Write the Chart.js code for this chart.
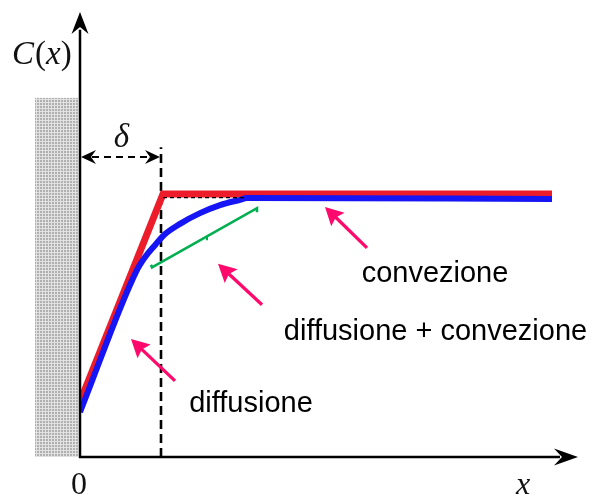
<!DOCTYPE html>
<html>
<head>
<meta charset="utf-8">
<script src="https://cdn.jsdelivr.net/npm/chart.js@4.4.1/dist/chart.umd.min.js"></script>
<style>
html,body{margin:0;padding:0;background:#fff;}
canvas{display:block;}
</style>
</head>
<body>
<canvas id="c" width="592" height="497"></canvas>
<script>
// ---- data (diagram units: x 0..100, y 0..100) ----
const redX = [0, 16.6, 94.4];
const redY = [12.4, 59.1, 59.1];

const blueX = [0, 11.2, 13, 15, 16.8, 20, 24, 28, 32, 33.4, 94.4];
const blueY = [10.1, 41.6, 44.9, 47.6, 49.9, 52.4, 54.8, 56.6, 57.8, 58.2, 58.0];

const greenX = [14.2, 14.4, 35.4, 35.4];
const greenY = [43.2, 42.6, 55.9, 55.0];
const greenTickX = [25.4, 25.4];
const greenTickY = [49.6, 48.7];

const deltaX = 16.2;            // boundary layer thickness
const plateauDashX = [16.6, 33.4];
const plateauDashY = [58.3, 58.3];

const arrowTailX = [19.0, 36.4, 57.4];
const arrowTailY = [17.1, 34.2, 47.0];
const arrowHeadX = [10.2, 27.6, 49.0];
const arrowHeadY = [26.5, 43.4, 56.2];

const labelTexts = ['convezione', 'diffusione + convezione', 'diffusione'];
const labelX = [71.0, 71.1, 34.2];
const labelY = [39.3, 26.3, 10.1];

const pts = (xs, ys) => xs.map((x, i) => ({x: x, y: ys[i]}));

function stealth(ctx, tx, ty, dx, dy, len, half, notch) {
  const px = -dy, py = dx;
  ctx.beginPath();
  ctx.moveTo(tx, ty);
  ctx.lineTo(tx - dx*len + px*half, ty - dy*len + py*half);
  ctx.lineTo(tx - dx*notch, ty - dy*notch);
  ctx.lineTo(tx - dx*len - px*half, ty - dy*len - py*half);
  ctx.closePath();
  ctx.fill();
}

const decor = {
  id: 'decor',
  beforeDatasetsDraw(chart) {
    const ctx = chart.ctx, xs = chart.scales.x, ys = chart.scales.y;
    const X = v => xs.getPixelForValue(v), Y = v => ys.getPixelForValue(v);
    ctx.save();
    // wall (hatched)
    const pc = document.createElement('canvas');
    pc.width = 3; pc.height = 3;
    const p = pc.getContext('2d');
    p.fillStyle = '#b0b0b0'; p.fillRect(0, 0, 3, 3);
    p.fillStyle = '#e2e2e2'; p.fillRect(0, 0, 3, 1); p.fillRect(0, 0, 1, 3);
    ctx.fillStyle = ctx.createPattern(pc, 'repeat');
    ctx.fillRect(X(-9), Y(80.7), X(-0.4) - X(-9), Y(0) - Y(80.7));

    // dashed vertical at delta
    ctx.strokeStyle = '#000';
    ctx.lineWidth = 2.6;
    ctx.setLineDash([9, 5]);
    ctx.beginPath();
    ctx.moveTo(X(deltaX), Y(0));
    ctx.lineTo(X(deltaX), Y(69.6));
    ctx.stroke();
    // delta dimension line
    ctx.lineWidth = 2;
    ctx.setLineDash([7, 5]);
    ctx.beginPath();
    ctx.moveTo(X(0) + 12, Y(67.4));
    ctx.lineTo(X(deltaX) - 12, Y(67.4));
    ctx.stroke();
    ctx.setLineDash([]);
    ctx.fillStyle = '#000';
    stealth(ctx, X(0) + 1, Y(67.4), -1, 0, 15, 7, 10);
    stealth(ctx, X(deltaX) - 1, Y(67.4), 1, 0, 15, 7, 10);
    ctx.restore();
  },
  afterDatasetsDraw(chart) {
    const ctx = chart.ctx, xs = chart.scales.x, ys = chart.scales.y;
    const X = v => xs.getPixelForValue(v), Y = v => ys.getPixelForValue(v);
    ctx.save();
    // axes
    ctx.strokeStyle = '#000';
    ctx.fillStyle = '#000';
    ctx.lineWidth = 2.5;
    ctx.beginPath();
    ctx.moveTo(X(0), Y(0) + 1);
    ctx.lineTo(X(0), Y(96));
    ctx.stroke();
    ctx.beginPath();
    ctx.moveTo(X(0) - 1, Y(0));
    ctx.lineTo(X(96), Y(0));
    ctx.stroke();
    stealth(ctx, X(0), Y(100), 0, -1, 22, 8.5, 15);
    stealth(ctx, X(99.6), Y(0), 1, 0, 24, 8.5, 16);

    // pink arrows
    ctx.strokeStyle = '#ff0a6c';
    ctx.fillStyle = '#ff0a6c';
    ctx.lineWidth = 3.3;
    for (let i = 0; i < arrowTailX.length; i++) {
      const tx = X(arrowTailX[i]), ty = Y(arrowTailY[i]);
      const hx = X(arrowHeadX[i]), hy = Y(arrowHeadY[i]);
      const L = Math.hypot(hx - tx, hy - ty);
      const dx = (hx - tx) / L, dy = (hy - ty) / L;
      ctx.beginPath();
      ctx.moveTo(tx, ty);
      ctx.lineTo(hx - dx*12, hy - dy*12);
      ctx.stroke();
      stealth(ctx, hx, hy, dx, dy, 18, 9.5, 15);
    }

    // labels
    ctx.fillStyle = '#000';
    ctx.font = '29px "Liberation Sans", Arial, sans-serif';
    ctx.textAlign = 'center';
    ctx.textBaseline = 'alphabetic';
    for (let i = 0; i < labelTexts.length; i++) {
      ctx.fillText(labelTexts[i], X(labelX[i]), Y(labelY[i]));
    }

    // math labels
    ctx.fillStyle = '#111';
    ctx.textAlign = 'left';
    let cx = 12;
    const base = 64;
    const parts = [['C', true], ['(', false], ['x', true], [')', false]];
    for (const [t, it] of parts) {
      ctx.font = (it ? 'italic ' : '') + '33px "Liberation Serif", "Times New Roman", serif';
      ctx.fillText(t, cx, base);
      cx += ctx.measureText(t).width + (t === 'C' ? 1 : 0);
    }
    ctx.textAlign = 'center';
    ctx.font = 'italic 33px "Liberation Serif", serif';
    ctx.fillText('δ', X(deltaX / 2) + 1, 147);
    ctx.font = '32px "Liberation Serif", serif';
    ctx.fillText('0', X(0) - 1, 494);
    ctx.font = 'italic 32px "Liberation Serif", serif';
    ctx.fillText('x', 523, 494);
    ctx.restore();
  }
};

new Chart(document.getElementById('c'), {
  type: 'scatter',
  data: {
    datasets: [
      {data: pts(plateauDashX, plateauDashY), showLine: true, borderColor: '#000', borderWidth: 1.2, borderDash: [4, 3], pointRadius: 0},
      {data: pts(greenX, greenY), showLine: true, borderColor: '#00b050', borderWidth: 2.5, pointRadius: 0},
      {data: pts(greenTickX, greenTickY), showLine: true, borderColor: '#00b050', borderWidth: 2, pointRadius: 0},
      {data: pts(blueX, blueY), showLine: true, borderColor: '#1515f5', borderWidth: 6, pointRadius: 0, cubicInterpolationMode: 'monotone', borderJoinStyle: 'round'},
      {data: pts(redX, redY), showLine: true, borderColor: '#ec1c2a', borderWidth: 7, pointRadius: 0, borderJoinStyle: 'miter'}
    ]
  },
  options: {
    responsive: false,
    devicePixelRatio: 1,
    animation: false,
    layout: {padding: {left: 80, right: 12, top: 12, bottom: 40}},
    plugins: {legend: {display: false}, tooltip: {enabled: false}},
    scales: {
      x: {type: 'linear', min: 0, max: 100, display: false},
      y: {type: 'linear', min: 0, max: 100, display: false}
    }
  },
  plugins: [decor]
});
</script>
</body>
</html>
